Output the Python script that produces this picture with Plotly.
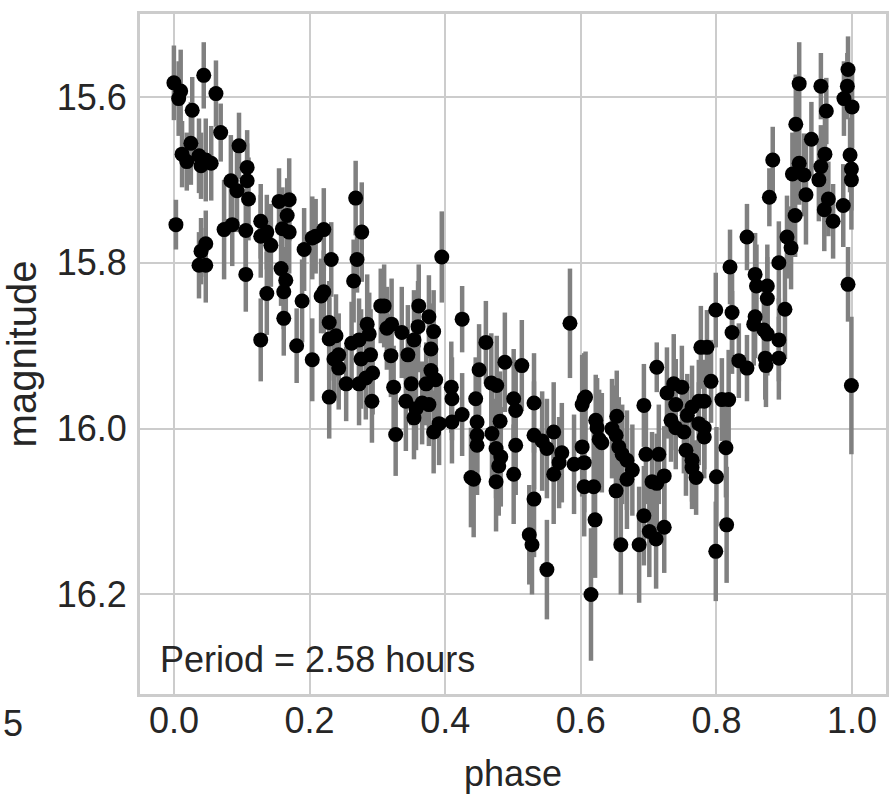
import plotly.graph_objects as go

phase = [
    0.000, 0.010, 0.007, 0.044, 0.062, 0.027, 0.069, 0.096, 0.012, 0.025,
    0.019, 0.037, 0.040, 0.055, 0.047, 0.108, 0.084, 0.108, 0.093, 0.110,
    0.003, 0.074, 0.086, 0.106, 0.047, 0.040, 0.037, 0.047, 0.106, 0.128,
    0.128, 0.137, 0.143, 0.155, 0.170, 0.167, 0.160, 0.170, 0.158, 0.165,
    0.162, 0.137, 0.162, 0.128, 0.192, 0.204, 0.209, 0.221, 0.232, 0.189,
    0.217, 0.221, 0.181, 0.204, 0.229, 0.229, 0.236, 0.229, 0.268, 0.277,
    0.270, 0.265, 0.395, 0.239, 0.243, 0.243, 0.254, 0.262, 0.273, 0.276,
    0.273, 0.283, 0.285, 0.288, 0.290, 0.293, 0.292, 0.305, 0.310, 0.314,
    0.321, 0.320, 0.324, 0.327, 0.336, 0.345, 0.342, 0.350, 0.354, 0.361,
    0.360, 0.357, 0.354, 0.366, 0.376, 0.383, 0.379, 0.379, 0.372, 0.386,
    0.376, 0.383, 0.391, 0.409, 0.410, 0.410, 0.425, 0.425, 0.445, 0.450,
    0.447, 0.447, 0.447, 0.438, 0.442, 0.460, 0.468, 0.476, 0.469, 0.481,
    0.475, 0.482, 0.479, 0.475, 0.488, 0.501, 0.504, 0.504, 0.501, 0.584,
    0.513, 0.531, 0.531, 0.543, 0.550, 0.560, 0.572, 0.568, 0.560, 0.531,
    0.524, 0.528, 0.550, 0.590, 0.605, 0.602, 0.605, 0.602, 0.607, 0.605,
    0.619, 0.621, 0.615, 0.622, 0.624, 0.627, 0.631, 0.646, 0.653, 0.652,
    0.656, 0.661, 0.668, 0.676, 0.668, 0.652, 0.659, 0.693, 0.696, 0.715,
    0.705, 0.712, 0.723, 0.693, 0.701, 0.711, 0.723, 0.686, 0.712, 0.727,
    0.737, 0.749, 0.740, 0.733, 0.740, 0.752, 0.764, 0.774, 0.777, 0.774,
    0.755, 0.764, 0.764, 0.770, 0.922, 0.954, 0.994, 0.993, 0.988, 1.000,
    0.962, 0.917, 0.940, 0.883, 0.960, 0.954, 0.922, 0.912, 0.929, 0.951,
    0.997, 0.999, 0.999, 0.878, 0.932, 0.965, 0.959, 0.987, 0.972, 0.916,
    0.845, 0.904, 0.910, 0.892, 0.820, 0.857, 0.859, 0.875, 0.875, 0.799,
    0.823, 0.901, 0.857, 0.855, 0.870, 0.875, 0.823, 0.892, 0.833, 0.845,
    0.872, 0.873, 0.892, 0.994, 0.999, 0.786, 0.792, 0.782, 0.782, 0.782,
    0.808, 0.818, 0.814, 0.800, 0.815, 0.799, 0.757,
]

magnitude = [
    15.583, 15.593, 15.602, 15.574, 15.596, 15.616, 15.643, 15.659, 15.669, 15.656,
    15.678, 15.671, 15.683, 15.680, 15.676, 15.685, 15.701, 15.701, 15.713, 15.723,
    15.754, 15.760, 15.754, 15.761, 15.777, 15.786, 15.803, 15.803, 15.814, 15.750,
    15.768, 15.763, 15.779, 15.726, 15.724, 15.743, 15.759, 15.763, 15.807, 15.821,
    15.835, 15.837, 15.867, 15.893, 15.784, 15.770, 15.768, 15.760, 15.796, 15.846,
    15.840, 15.835, 15.900, 15.917, 15.872, 15.892, 15.916, 15.962, 15.722, 15.763,
    15.796, 15.822, 15.793, 15.888, 15.911, 15.927, 15.946, 15.897, 15.893, 15.916,
    15.946, 15.939, 15.874, 15.886, 15.911, 15.933, 15.967, 15.852, 15.852, 15.879,
    15.874, 15.912, 15.950, 16.007, 15.884, 15.911, 15.967, 15.946, 15.893, 15.852,
    15.877, 15.976, 15.987, 15.969, 15.865, 15.883, 15.904, 15.930, 15.946, 15.941,
    15.971, 16.004, 15.994, 15.950, 15.964, 15.992, 15.983, 15.868, 15.964, 15.929,
    15.992, 16.008, 16.020, 16.059, 16.061, 15.896, 15.945, 15.948, 16.006, 15.991,
    16.024, 16.034, 16.045, 16.064, 15.920, 15.964, 15.978, 16.020, 16.055, 15.873,
    15.924, 15.969, 16.008, 16.015, 16.024, 16.004, 16.029, 16.041, 16.055, 16.085,
    16.128, 16.140, 16.170, 16.043, 16.041, 16.022, 15.964, 15.971, 15.962, 16.070,
    16.070, 16.110, 16.200, 15.990, 15.999, 16.013, 16.017, 16.000, 15.985, 16.008,
    16.022, 16.031, 16.038, 16.050, 16.061, 16.075, 16.140, 15.972, 16.031, 16.031,
    16.064, 16.066, 16.057, 16.105, 16.124, 16.133, 16.119, 16.140, 15.926, 15.957,
    15.946, 15.950, 15.971, 15.990, 15.999, 16.004, 15.974, 15.967, 15.902, 15.994,
    16.026, 16.038, 16.047, 16.059, 15.584, 15.587, 15.567, 15.587, 15.602, 15.612,
    15.617, 15.633, 15.651, 15.676, 15.669, 15.684, 15.680, 15.693, 15.694, 15.700,
    15.670, 15.687, 15.700, 15.721, 15.718, 15.723, 15.736, 15.731, 15.750, 15.743,
    15.769, 15.769, 15.782, 15.800, 15.805, 15.814, 15.828, 15.828, 15.843, 15.857,
    15.860, 15.856, 15.865, 15.874, 15.881, 15.886, 15.884, 15.893, 15.918, 15.927,
    15.915, 15.924, 15.915, 15.826, 15.948, 15.902, 15.943, 15.967, 15.999, 16.010,
    15.965, 15.965, 16.023, 16.058, 16.116, 16.148, 15.984,
]

mag_err = [
    0.045, 0.050, 0.045, 0.040, 0.040, 0.040, 0.035, 0.040, 0.040, 0.050,
    0.035, 0.045, 0.040, 0.045, 0.050, 0.045, 0.055, 0.045, 0.050, 0.050,
    0.030, 0.060, 0.050, 0.050, 0.040, 0.040, 0.040, 0.045, 0.045, 0.045,
    0.050, 0.045, 0.050, 0.040, 0.050, 0.045, 0.050, 0.050, 0.045, 0.040,
    0.045, 0.050, 0.045, 0.050, 0.050, 0.050, 0.045, 0.050, 0.045, 0.050,
    0.045, 0.050, 0.045, 0.050, 0.050, 0.050, 0.050, 0.050, 0.045, 0.060,
    0.040, 0.050, 0.055, 0.050, 0.050, 0.050, 0.045, 0.050, 0.050, 0.060,
    0.050, 0.050, 0.060, 0.050, 0.055, 0.050, 0.050, 0.045, 0.050, 0.050,
    0.055, 0.050, 0.050, 0.050, 0.055, 0.060, 0.060, 0.050, 0.060, 0.050,
    0.055, 0.050, 0.050, 0.050, 0.050, 0.050, 0.055, 0.050, 0.050, 0.050,
    0.050, 0.050, 0.050, 0.055, 0.050, 0.050, 0.050, 0.040, 0.050, 0.055,
    0.060, 0.060, 0.060, 0.060, 0.070, 0.050, 0.060, 0.060, 0.060, 0.060,
    0.060, 0.060, 0.060, 0.060, 0.060, 0.060, 0.060, 0.060, 0.060, 0.066,
    0.055, 0.060, 0.065, 0.060, 0.060, 0.060, 0.060, 0.055, 0.060, 0.070,
    0.060, 0.060, 0.060, 0.060, 0.060, 0.060, 0.055, 0.060, 0.055, 0.060,
    0.065, 0.070, 0.080, 0.055, 0.060, 0.060, 0.060, 0.060, 0.055, 0.060,
    0.060, 0.060, 0.060, 0.055, 0.060, 0.065, 0.060, 0.050, 0.060, 0.060,
    0.060, 0.060, 0.060, 0.060, 0.055, 0.060, 0.055, 0.070, 0.030, 0.055,
    0.060, 0.050, 0.055, 0.050, 0.050, 0.050, 0.050, 0.050, 0.050, 0.050,
    0.055, 0.050, 0.050, 0.045, 0.050, 0.040, 0.040, 0.040, 0.045, 0.050,
    0.040, 0.060, 0.045, 0.040, 0.045, 0.050, 0.050, 0.050, 0.050, 0.050,
    0.045, 0.050, 0.060, 0.035, 0.060, 0.045, 0.050, 0.050, 0.045, 0.050,
    0.040, 0.050, 0.050, 0.050, 0.045, 0.050, 0.050, 0.050, 0.050, 0.045,
    0.050, 0.060, 0.050, 0.050, 0.050, 0.050, 0.050, 0.050, 0.045, 0.040,
    0.050, 0.050, 0.050, 0.045, 0.083, 0.045, 0.050, 0.050, 0.050, 0.050,
    0.050, 0.060, 0.060, 0.060, 0.070, 0.060, 0.050,
]

x_ticks = [0.0, 0.2, 0.4, 0.6, 0.8, 1.0]
y_ticks = [15.6, 15.8, 16.0, 16.2]
period_label = "Period = 2.58 hours"

FONT = "Liberation Sans, Arial, sans-serif"
TXT = "#262626"
GRID = "#cccccc"

fig = go.Figure()
fig.add_trace(go.Scatter(
    x=phase, y=magnitude, mode="markers",
    marker=dict(color="black", size=15, line=dict(width=0)),
    error_y=dict(type="data", array=mag_err, visible=True,
                 color="#808080", thickness=4.5, width=0),
    showlegend=False,
))

fig.add_annotation(
    text=period_label, xref="paper", yref="paper",
    x=(158 - 140) / 749, y=(694 - 659) / 680,
    xanchor="left", yanchor="middle", showarrow=False,
    font=dict(family=FONT, size=36, color=TXT),
)
fig.add_annotation(
    text="5", xref="paper", yref="paper",
    x=(0 - 140) / 749, y=(694 - 723) / 680,
    xanchor="left", yanchor="middle", showarrow=False,
    font=dict(family=FONT, size=36, color=TXT),
)

fig.update_layout(
    width=893, height=801,
    margin=dict(l=140, r=4, t=14, b=107),
    paper_bgcolor="white", plot_bgcolor="white",
    font=dict(family=FONT, size=36, color=TXT),
    xaxis=dict(
        range=[-0.05, 1.05], tickvals=x_ticks, tickformat=".1f",
        showgrid=True, gridcolor=GRID, gridwidth=2.2, zeroline=False,
        showline=True, mirror=True, linecolor=GRID, linewidth=3,
        ticks="", ticklabelstandoff=-7,
        title=dict(text="phase", standoff=21, font=dict(size=36)),
    ),
    yaxis=dict(
        range=[16.32, 15.5], tickvals=y_ticks, tickformat=".1f",
        showgrid=True, gridcolor=GRID, gridwidth=2.2, zeroline=False,
        showline=True, mirror=True, linecolor=GRID, linewidth=3,
        ticks="", ticklabelstandoff=3,
        title=dict(text="magnitude", standoff=10, font=dict(size=40)),
    ),
)

fig.write_html("out.html")
